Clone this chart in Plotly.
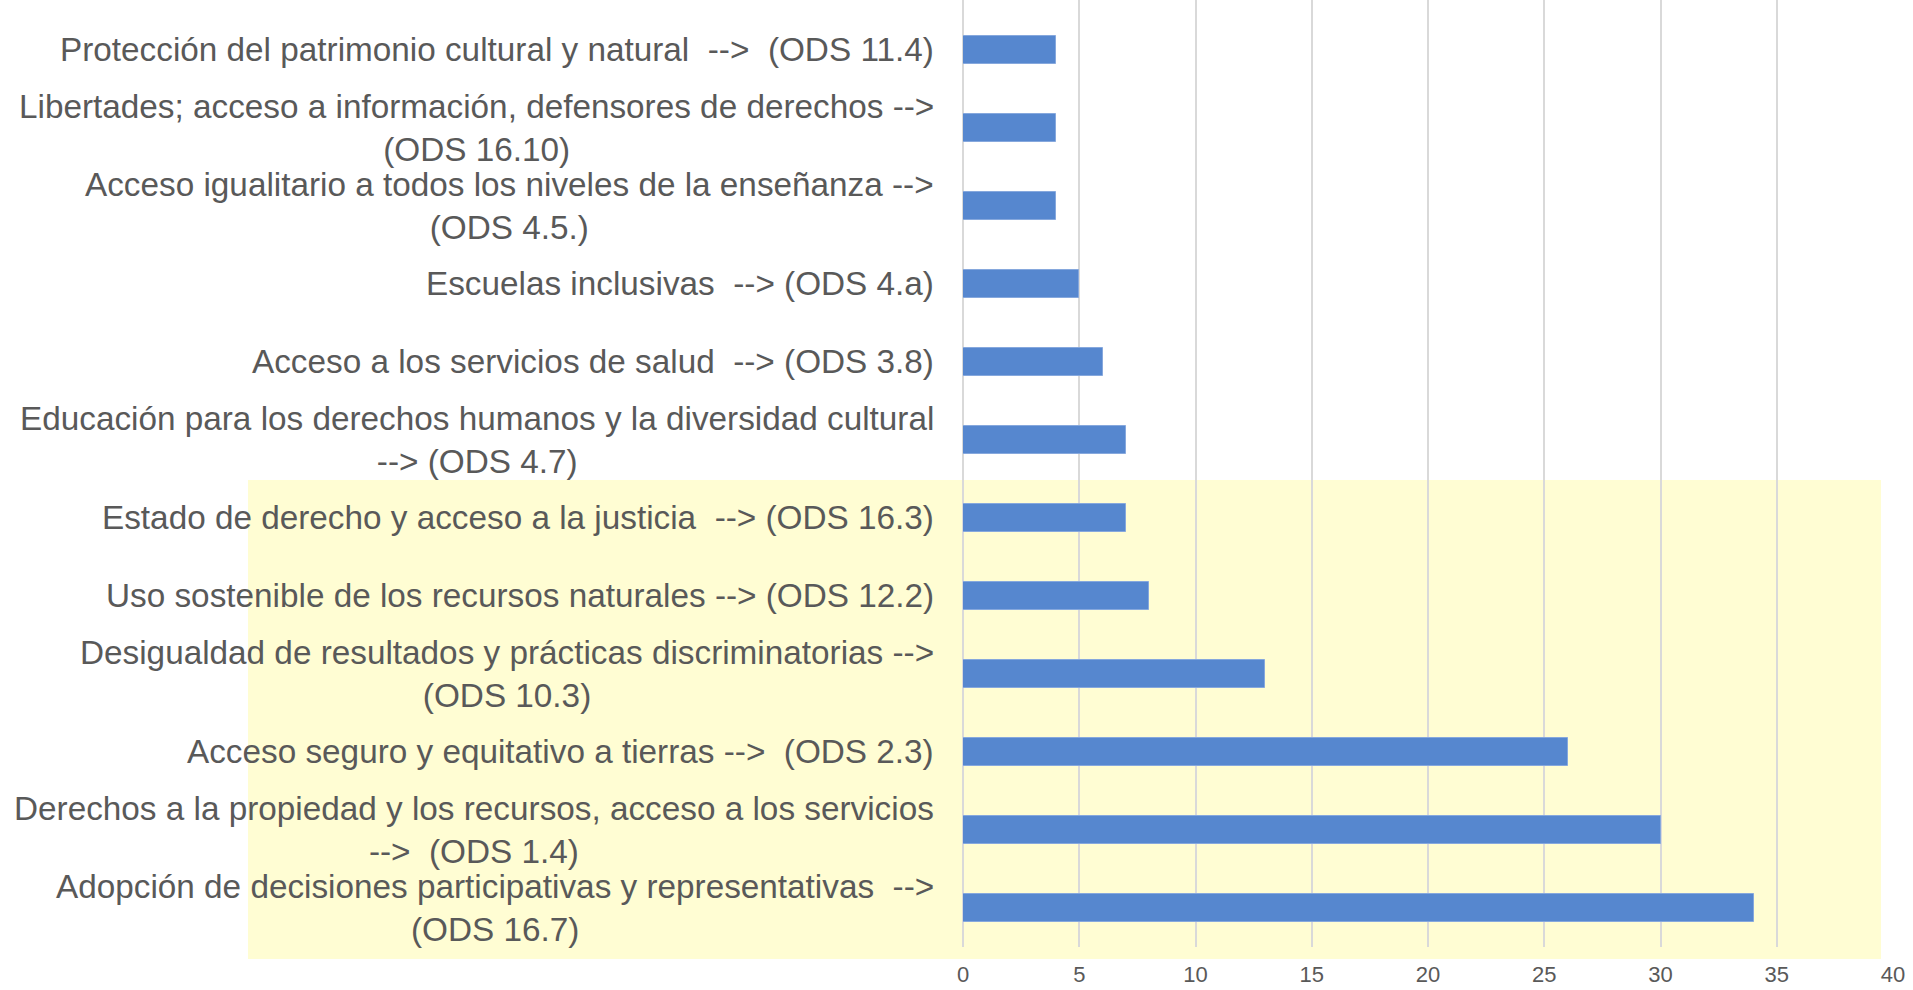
import plotly.graph_objects as go

NB = "\u00a0"

# Categories listed bottom-to-top (first = bottom of chart)
categories = [
    "Adopción de decisiones participativas y representativas" + NB + NB + "--><br>(ODS 16.7)",
    "Derechos a la propiedad y los recursos, acceso a los servicios<br>-->" + NB + NB + "(ODS 1.4)",
    "Acceso seguro y equitativo a tierras -->" + NB + NB + "(ODS 2.3)",
    "Desigualdad de resultados y prácticas discriminatorias --><br>(ODS 10.3)",
    "Uso sostenible de los recursos naturales --> (ODS 12.2)",
    "Estado de derecho y acceso a la justicia" + NB + NB + "--> (ODS 16.3)",
    "Educación para los derechos humanos y la diversidad cultural<br>--> (ODS 4.7)",
    "Acceso a los servicios de salud" + NB + NB + "--> (ODS 3.8)",
    "Escuelas inclusivas" + NB + NB + "--> (ODS 4.a)",
    "Acceso igualitario a todos los niveles de la enseñanza --><br>(ODS 4.5.)",
    "Libertades; acceso a información, defensores de derechos --><br>(ODS 16.10)",
    "Protección del patrimonio cultural y natural" + NB + NB + "-->" + NB + NB + "(ODS 11.4)",
]
values = [34, 30, 26, 13, 8, 7, 7, 6, 5, 4, 4, 4]
x_ticks = [0, 5, 10, 15, 20, 25, 30, 35, 40]

TEXT = "#595959"
W, H = 1913, 990
ML, MR, MT, MB = 963, 20, 0, 43

fig = go.Figure()
fig.add_trace(go.Bar(
    y=list(range(len(categories))),
    x=values,
    orientation="h",
    width=0.359,
    marker=dict(color="#5687CF", line=dict(color="#86A8DD", width=1)),
    hoverinfo="x",
))

# Category labels as centred multi-line blocks, right-aligned next to the axis
for i, c in enumerate(categories):
    fig.add_annotation(
        x=0, xref="paper", y=i, yref="y",
        text=c, showarrow=False,
        xanchor="right", yanchor="middle", align="center",
        xshift=-27,
        font=dict(family="Liberation Sans, Arial, sans-serif", size=33.3, color=TEXT),
    )

# Highlight band (light yellow) behind lower categories
plot_w = W - ML - MR
plot_h = H - MT - MB
fig.add_shape(
    type="rect", xref="paper", yref="paper", layer="below",
    x0=(248 - ML) / plot_w, x1=(1881 - ML) / plot_w,
    y0=(H - MB - 959) / plot_h, y1=(H - MB - 480) / plot_h,
    fillcolor="#FFFDD3", line=dict(width=0),
)

fig.update_layout(
    width=W, height=H,
    margin=dict(l=ML, r=MR, t=MT, b=MB, pad=0),
    paper_bgcolor="white",
    plot_bgcolor="rgba(0,0,0,0)",
    showlegend=False,
    bargap=0,
    xaxis=dict(
        range=[0, 40],
        tickvals=x_ticks,
        ticktext=[str(v) for v in x_ticks],
        showgrid=True, gridcolor="#D9D9D9", gridwidth=1.5,
        zeroline=True, zerolinecolor="#D9D9D9", zerolinewidth=1.5,
        showline=False,
        ticks="",
        ticklabelstandoff=12,
        tickfont=dict(family="Liberation Sans, Arial, sans-serif", size=22, color=TEXT),
    ),
    yaxis=dict(
        range=[-0.5, 11.637],
        showticklabels=False,
        showgrid=False, zeroline=False, showline=False,
        ticks="",
    ),
)

fig.write_html(
    "out.html",
    config={"displayModeBar": False},
    post_script="document.body.style.margin='0';document.body.style.overflow='hidden';",
)
